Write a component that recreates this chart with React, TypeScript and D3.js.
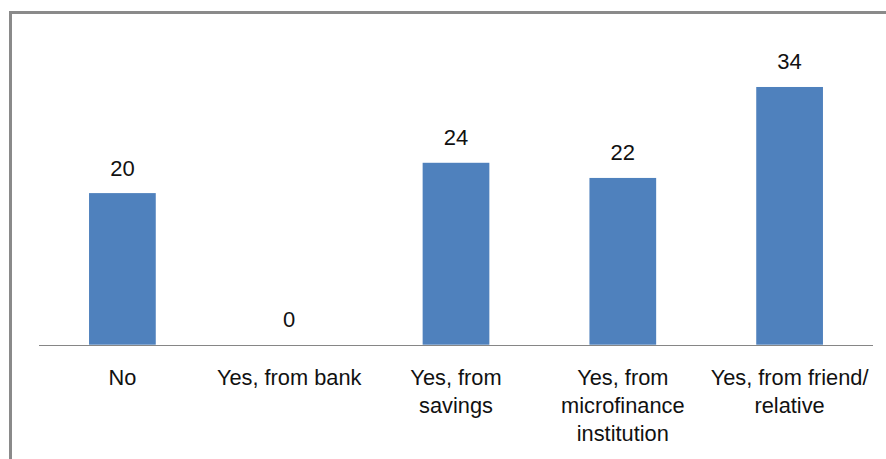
import React from "react";
import * as d3 from "d3";

const categories: string[][] = [
  ["No"],
  ["Yes, from bank"],
  ["Yes, from", "savings"],
  ["Yes, from", "microfinance", "institution"],
  ["Yes, from friend/", "relative"],
];
const values: number[] = [20, 0, 24, 22, 34];
const yMax = 40;

export default function App() {
  const W = 886;
  const H = 459;
  const x0 = 39;
  const x1 = 873;
  const baseY = 344.7;
  const topY = baseY - 7.58 * yMax;

  const x = d3
    .scaleBand<number>()
    .domain(values.map((_, i) => i))
    .range([x0, x1])
    .paddingInner(0.6)
    .paddingOuter(0.3);
  const y = d3.scaleLinear().domain([0, yMax]).range([baseY, topY]);
  const font = "'Liberation Sans', Arial, sans-serif";

  return (
    <svg
      width={W}
      height={H}
      style={{ position: "absolute", left: 0, top: 0, background: "#fff" }}
    >
      <rect x={10.5} y={12.5} width={1000} height={1000} fill="#fff" stroke="#8a8a8a" strokeWidth={3} />
      {values.map((v, i) => (
        <rect
          key={i}
          x={x(i)!}
          y={y(v)}
          width={x.bandwidth()}
          height={y(0) - y(v)}
          fill="#4F81BD"
        />
      ))}
      <line x1={x0} x2={x1} y1={Math.round(baseY) + 0.5} y2={Math.round(baseY) + 0.5} stroke="#868686" strokeWidth={1} />
      {values.map((v, i) => (
        <text
          key={"v" + i}
          x={x(i)! + x.bandwidth() / 2}
          y={y(v) - 17.5}
          textAnchor="middle"
          fontFamily={font}
          fontSize={22}
          fill="#111"
        >
          {v}
        </text>
      ))}
      {categories.map((lines, i) => (
        <text
          key={"c" + i}
          textAnchor="middle"
          fontFamily={font}
          fontSize={21.8}
          fill="#111"
        >
          {lines.map((l, j) => (
            <tspan key={j} x={x(i)! + x.bandwidth() / 2} y={385 + j * 28}>
              {l}
            </tspan>
          ))}
        </text>
      ))}
    </svg>
  );
}
